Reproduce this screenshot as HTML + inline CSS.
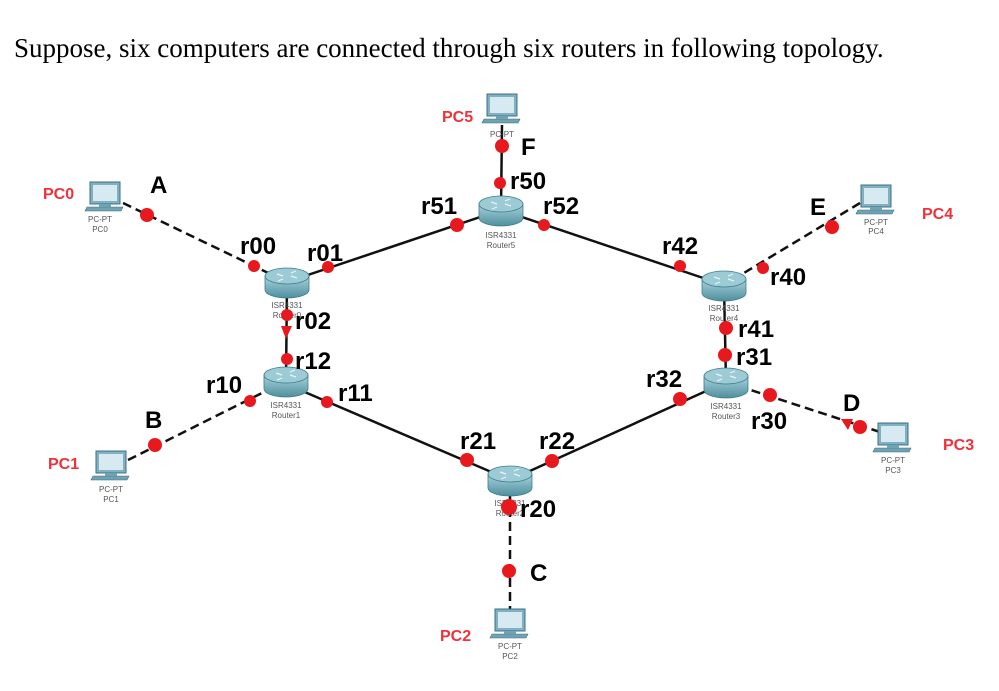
<!DOCTYPE html>
<html><head><meta charset="utf-8"><style>
html,body{margin:0;padding:0;background:#fff;}
svg{display:block}
</style></head><body>
<svg width="999" height="691" viewBox="0 0 999 691" xmlns="http://www.w3.org/2000/svg">
<defs>
<linearGradient id="rg" x1="0" y1="0" x2="0" y2="1">
<stop offset="0" stop-color="#a9d3dc"/><stop offset="1" stop-color="#4f8f9e"/>
</linearGradient>
<g id="router">
<path d="M-22,-6 L-22,8 A22,8 0 0 0 22,8 L22,-6 Z" fill="url(#rg)" stroke="#3e7c8a" stroke-width="0.8"/>
<ellipse cx="0" cy="-6" rx="22" ry="8" fill="#9ccbd6" stroke="#3e7c8a" stroke-width="0.8"/>
<path d="M-10,-8 l6,2 M10,-4 l-6,-2 M-4,-3 l-5,2 M4,-9 l5,-2" stroke="#e8f4f7" stroke-width="1.2"/>
</g>
<g id="pc">
<rect x="-15" y="-13" width="30" height="22" fill="#7fb1c2" stroke="#3d6f80" stroke-width="1"/>
<rect x="-12" y="-10" width="24" height="16" fill="#d7eaf1"/>
<path d="M-18,12 L18,12 L16,16 L-20,16 Z" fill="#6fa2b3" stroke="#3d6f80" stroke-width="0.6"/>
<rect x="-6" y="9" width="12" height="3" fill="#6fa2b3"/>
</g>
</defs>
<text x="14" y="57" font-family="Liberation Serif, serif" font-size="27" fill="#000">Suppose, six computers are connected through six routers in following topology.</text>

<g stroke="#111" stroke-width="2.5" fill="none">
<line x1="287" y1="282" x2="501" y2="210"/>
<line x1="501" y1="210" x2="724" y2="285"/>
<line x1="300" y1="390" x2="510" y2="480"/>
<line x1="510" y1="480" x2="726" y2="382"/>
<line x1="724" y1="285" x2="726" y2="382"/>
<line x1="287" y1="282" x2="286" y2="381"/>
<line x1="501" y1="210" x2="502" y2="125"/>
</g>
<g stroke="#111" stroke-width="2.5" fill="none" stroke-dasharray="9,5">
<line x1="123" y1="203" x2="287" y2="282"/>
<line x1="128" y1="460" x2="286" y2="381"/>
<line x1="510" y1="480" x2="510" y2="610"/>
<line x1="860" y1="203" x2="724" y2="285"/>
<line x1="880" y1="432" x2="726" y2="382"/>
</g>

<use href="#router" x="287" y="282"/>
<use href="#router" x="501" y="210"/>
<use href="#router" x="724" y="285"/>
<use href="#router" x="286" y="381"/>
<use href="#router" x="726" y="382"/>
<use href="#router" x="510" y="480"/>

<use href="#pc" x="105" y="195"/>
<use href="#pc" x="502" y="107"/>
<use href="#pc" x="876" y="198"/>
<use href="#pc" x="111" y="464"/>
<use href="#pc" x="893" y="436"/>
<use href="#pc" x="510" y="622"/>

<g font-family="Liberation Sans, sans-serif" font-size="8" fill="#555" text-anchor="middle">
<text x="100" y="222">PC-PT</text><text x="100" y="232">PC0</text>
<text x="502" y="137">PC-PT</text>
<text x="876" y="225">PC-PT</text><text x="876" y="234">PC4</text>
<text x="111" y="492">PC-PT</text><text x="111" y="502">PC1</text>
<text x="893" y="463">PC-PT</text><text x="893" y="473">PC3</text>
<text x="510" y="649">PC-PT</text><text x="510" y="659">PC2</text>
<text x="501" y="238">ISR4331</text><text x="501" y="248">Router5</text>
<text x="286" y="408">ISR4331</text><text x="286" y="418">Router1</text>
<text x="726" y="409">ISR4331</text><text x="726" y="419">Router3</text>
<text x="724" y="311">ISR4331</text><text x="724" y="321">Router4</text>
<text x="287" y="308">ISR4331</text><text x="287" y="318">Router0</text>
<text x="510" y="506">ISR4331</text><text x="510" y="516">Router2</text>
</g>

<g fill="#e8191e">
<circle cx="147" cy="215" r="7"/>
<circle cx="254" cy="266" r="6"/>
<circle cx="328" cy="267" r="6"/>
<circle cx="457" cy="225" r="7"/>
<circle cx="544" cy="225" r="6"/>
<circle cx="500" cy="183" r="6"/>
<circle cx="502" cy="146" r="7"/>
<circle cx="832" cy="227" r="7"/>
<circle cx="763" cy="268" r="6"/>
<circle cx="680" cy="266" r="6"/>
<circle cx="726" cy="328" r="7"/>
<circle cx="725" cy="355" r="7"/>
<circle cx="680" cy="399" r="7"/>
<circle cx="770" cy="395" r="7"/>
<circle cx="860" cy="427" r="7"/>
<circle cx="250" cy="401" r="6"/>
<circle cx="327" cy="402" r="6"/>
<circle cx="155" cy="445" r="7"/>
<circle cx="467" cy="460" r="7"/>
<circle cx="552" cy="461" r="7"/>
<circle cx="509" cy="507" r="8"/>
<circle cx="509" cy="571" r="7"/>
<circle cx="287" cy="315" r="6"/>
<circle cx="287" cy="359" r="6"/>
<path d="M281,326 L292,326 L286,339 Z"/>
<path d="M841,419 L853,419 L848,430 Z"/>
</g>

<g font-family="Liberation Sans, sans-serif" font-weight="bold" font-size="24" fill="#000">
<text x="150" y="193">A</text>
<text x="240" y="254">r00</text>
<text x="307" y="261">r01</text>
<text x="421" y="214">r51</text>
<text x="543" y="214">r52</text>
<text x="510" y="189">r50</text>
<text x="521" y="155">F</text>
<text x="810" y="215">E</text>
<text x="770" y="285">r40</text>
<text x="662" y="254">r42</text>
<text x="738" y="337">r41</text>
<text x="736" y="365">r31</text>
<text x="646" y="387">r32</text>
<text x="751" y="429">r30</text>
<text x="843" y="411">D</text>
<text x="206" y="393">r10</text>
<text x="338" y="401">r11</text>
<text x="145" y="428">B</text>
<text x="460" y="449">r21</text>
<text x="539" y="449">r22</text>
<text x="520" y="517">r20</text>
<text x="530" y="581">C</text>
<text x="295" y="329">r02</text>
<text x="295" y="369">r12</text>
</g>

<g font-family="Liberation Sans, sans-serif" font-weight="bold" font-size="16" fill="#f0313a">
<text x="43" y="199">PC0</text>
<text x="442" y="122">PC5</text>
<text x="922" y="219">PC4</text>
<text x="48" y="469">PC1</text>
<text x="943" y="450">PC3</text>
<text x="440" y="641">PC2</text>
</g>
</svg>
</body></html>
